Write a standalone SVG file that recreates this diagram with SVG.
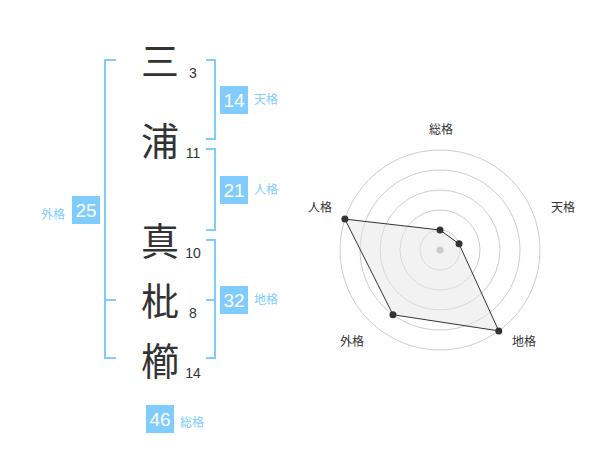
<svg xmlns="http://www.w3.org/2000/svg" width="600" height="470" viewBox="0 0 600 470">
<style>
.kanji{font-family:"Noto Sans CJK JP","Noto Sans CJK SC",sans-serif;font-size:38px;fill:#333;text-anchor:middle}
.strokes{font-family:"Liberation Sans",Arial,sans-serif;font-size:14px;fill:#333;text-anchor:middle}
.br{fill:none;stroke:#80ccff;stroke-width:2}
.box{fill:#80ccff}
.val{font-family:"Liberation Sans",Arial,sans-serif;font-size:19px;fill:#fff;text-anchor:middle}
.lbl{font-family:"Noto Sans CJK JP","Noto Sans CJK SC",sans-serif;font-size:12px;fill:#80ccff}
.ring{fill:none;stroke:#cccccc;stroke-width:1}
.axis{font-family:"Noto Sans CJK JP","Noto Sans CJK SC",sans-serif;font-size:12px;fill:#333;text-anchor:middle}
.dot{fill:#333}
</style>
<rect width="600" height="470" fill="#fff"/>
<g id="chars">
<text class="kanji" x="160" y="75">三</text>
<text class="kanji" x="160" y="155">浦</text>
<text class="kanji" x="160" y="255">真</text>
<text class="kanji" x="160" y="315">枇</text>
<text class="kanji" x="160" y="375">櫛</text>
<text class="strokes" x="193" y="78">3</text>
<text class="strokes" x="193" y="158">11</text>
<text class="strokes" x="193" y="258">10</text>
<text class="strokes" x="193" y="318">8</text>
<text class="strokes" x="193" y="378">14</text>
</g>
<g id="connectors">
<path class="br" d="M116,60 H105 V358 H116 M105,300 H116"/>
<path class="br" d="M206,60 H215 V139 H206"/>
<path class="br" d="M206,149 H215 V230 H206"/>
<path class="br" d="M206,240 H215 V358 H206 M215,300 H206"/>
</g>
<g id="tenkaku">
<rect class="box" x="220" y="86" width="28" height="28"/>
<text class="val" x="234" y="107">14</text>
<text class="lbl" x="254" y="104">天格</text>
</g>
<g id="jinkaku">
<rect class="box" x="220" y="176" width="28" height="28"/>
<text class="val" x="234" y="197">21</text>
<text class="lbl" x="254" y="194">人格</text>
</g>
<g id="chikaku">
<rect class="box" x="220" y="286" width="28" height="28"/>
<text class="val" x="234" y="307">32</text>
<text class="lbl" x="254" y="304">地格</text>
</g>
<g id="gaikaku">
<rect class="box" x="72" y="196" width="28" height="28"/>
<text class="val" x="86" y="217">25</text>
<text class="lbl" x="41" y="219">外格</text>
</g>
<g id="soukaku">
<rect class="box" x="146" y="405" width="28" height="28"/>
<text class="val" x="160" y="426">46</text>
<text class="lbl" x="180" y="427">総格</text>
</g>
<g id="radar">
<circle class="ring" cx="440" cy="250" r="20"/>
<circle class="ring" cx="440" cy="250" r="40"/>
<circle class="ring" cx="440" cy="250" r="60"/>
<circle class="ring" cx="440" cy="250" r="80"/>
<circle class="ring" cx="440" cy="250" r="100"/>
<polygon points="440,230 459.02,243.82 498.78,330.9 392.98,314.72 344.9,219.1" fill="#e6e6e6" fill-opacity="0.5" stroke="#333" stroke-width="1"/>
<circle cx="440" cy="250" r="3.5" fill="#cccccc"/>
<circle class="dot" cx="440" cy="230" r="3.5"/>
<circle class="dot" cx="459.02" cy="243.82" r="3.5"/>
<circle class="dot" cx="498.78" cy="330.9" r="3.5"/>
<circle class="dot" cx="392.98" cy="314.72" r="3.5"/>
<circle class="dot" cx="344.9" cy="219.1" r="3.5"/>
<text class="axis" x="441" y="134">総格</text>
<text class="axis" x="563" y="212">天格</text>
<text class="axis" x="524" y="346">地格</text>
<text class="axis" x="352" y="346">外格</text>
<text class="axis" x="320" y="212">人格</text>
</g>
</svg>
